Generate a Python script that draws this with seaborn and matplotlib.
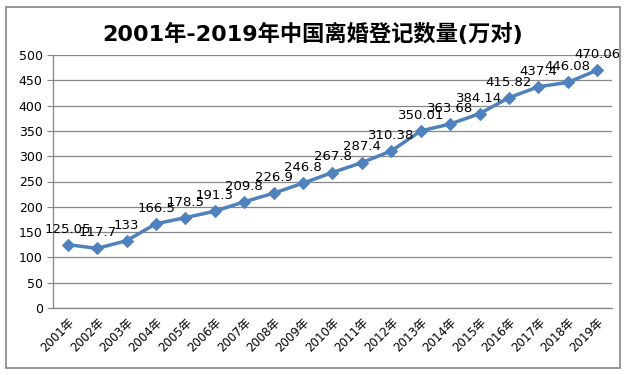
import matplotlib
matplotlib.use('Agg')
import matplotlib.pyplot as plt
import seaborn as sns
import pandas as pd
from matplotlib.patches import Rectangle

# 数据
years = [f'{y}年' for y in range(2001, 2020)]
counts = [125.05, 117.7, 133, 166.5, 178.5, 191.3, 209.8, 226.9, 246.8, 267.8,
          287.4, 310.38, 350.01, 363.68, 384.14, 415.82, 437.4, 446.08, 470.06]
point_labels = ['125.05', '117.7', '133', '166.5', '178.5', '191.3', '209.8', '226.9',
                '246.8', '267.8', '287.4', '310.38', '350.01', '363.68', '384.14',
                '415.82', '437.4', '446.08', '470.06']
y_ticks = [0, 50, 100, 150, 200, 250, 300, 350, 400, 450, 500]

df = pd.DataFrame({'year': years, 'count': counts})
df['pos'] = range(len(df))

sns.set_style('white')
plt.rcParams['font.family'] = ['DejaVu Sans', 'Noto Sans CJK SC']
plt.rcParams['text.color'] = 'black'
plt.rcParams['xtick.color'] = 'black'
plt.rcParams['ytick.color'] = 'black'

fig = plt.figure(figsize=(6.25, 3.75), dpi=100)
ax = fig.add_axes([0.085, 0.179, 0.894, 0.674])

sns.lineplot(data=df, x='pos', y='count', ax=ax, color='#4F81BD', linewidth=2.5,
             marker='D', markersize=6.5, markeredgecolor='#4F81BD')

for x, y, t in zip(df['pos'], df['count'], point_labels):
    ax.text(x, y + 18, t, ha='center', va='bottom', fontsize=9.5, color='black')

ax.set_xlim(-0.5, len(years) - 0.5)
ax.set_ylim(0, 500)
ax.set_yticks(y_ticks)
ax.set_xticks(df['pos'])
ax.set_xticklabels(years, rotation=45, ha='right', rotation_mode='anchor', fontsize=8.5)
ax.set_xticks([i - 0.5 for i in range(len(years) + 1)], minor=True)
ax.tick_params(axis='x', which='major', length=0, pad=6, labelcolor='black')
ax.tick_params(axis='x', which='minor', length=4, color='#868686', direction='out')
ax.tick_params(axis='y', length=4, color='#868686', direction='out', labelsize=9,
               left=True, labelcolor='black')
ax.grid(axis='y', color='#868686', linewidth=0.9)
ax.set_axisbelow(True)
ax.set_xlabel('')
ax.set_ylabel('')

for s in ['top', 'right']:
    ax.spines[s].set_visible(False)
for s in ['left', 'bottom']:
    ax.spines[s].set_color('#868686')
    ax.spines[s].set_linewidth(0.9)

fig.suptitle('2001年-2019年中国离婚登记数量(万对)', x=0.5, y=0.94, fontsize=16,
             fontweight='bold', color='black', family=['DejaVu Sans', 'Noto Sans CJK SC'])

# 外框
fig.patches.append(Rectangle((6 / 625, 7 / 375), 614 / 625, 361 / 375,
                             transform=fig.transFigure, fill=False,
                             edgecolor='#868686', linewidth=1.2))

fig.savefig('out.png', dpi=100)
